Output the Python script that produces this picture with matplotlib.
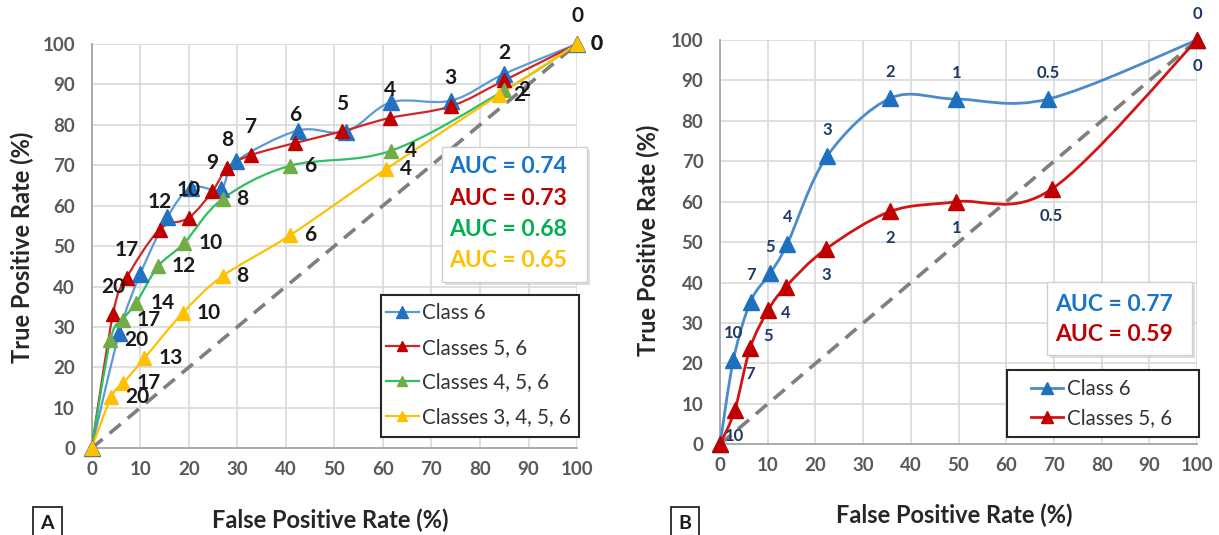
import matplotlib
matplotlib.use('Agg')
import matplotlib.pyplot as plt
import numpy as np
from matplotlib.path import Path
from matplotlib.patches import PathPatch, Rectangle
from matplotlib.lines import Line2D

plt.rcParams['font.family'] = ['Lato', 'DejaVu Sans']

# ---- panel A data (FPR, TPR in %, threshold labels) ----
a_names = ['Class 6', 'Classes 5, 6', 'Classes 4, 5, 6', 'Classes 3, 4, 5, 6']

a_c6_x = [0, 5.7, 10.0, 15.6, 20.5, 26.6, 29.8, 42.5, 52.4, 61.7, 74.1, 85.0, 100]
a_c6_y = [0, 28.5, 43.0, 57.1, 64.5, 64.1, 71.0, 78.6, 78.3, 85.6, 86.0, 92.6, 100]

a_c56_x = [0, 4.4, 7.2, 14.0, 20.0, 24.9, 28.0, 32.8, 41.9, 51.6, 61.4, 74.0, 85.0, 100]
a_c56_y = [0, 33.1, 42.1, 54.1, 57.0, 63.6, 69.4, 72.5, 75.5, 78.4, 81.7, 84.6, 91.0, 100]
a_c56_lab = ['', '20', '17', '12', '10', '9', '8', '7', '6', '5', '4', '3', '2', '0']

a_c456_x = [0, 3.9, 6.4, 9.2, 13.7, 19.1, 27.0, 40.9, 61.7, 85.0, 100]
a_c456_y = [0, 26.9, 31.8, 36.0, 45.0, 50.8, 61.7, 69.9, 73.6, 88.5, 100]
a_c456_lab = ['', '20', '17', '14', '12', '10', '8', '6', '4', '2', '0']

a_c3456_x = [0, 4.1, 6.5, 10.9, 18.8, 27.0, 40.9, 60.7, 83.9, 100]
a_c3456_y = [0, 12.8, 16.1, 22.3, 33.5, 42.6, 52.7, 69.1, 87.4, 100]
a_c3456_lab = ['', '20', '17', '13', '10', '8', '6', '4', '2', '0']

a_auc = ['AUC = 0.74', 'AUC = 0.73', 'AUC = 0.68', 'AUC = 0.65']

# ---- panel B data ----
b_names = ['Class 6', 'Classes 5, 6']
b_c6_x = [0, 2.8, 6.4, 10.5, 14.1, 22.4, 35.7, 49.5, 68.8, 100]
b_c6_y = [0, 20.9, 35.3, 42.3, 49.6, 71.2, 85.6, 85.4, 85.4, 100]
b_c56_x = [0, 3.1, 6.3, 10.1, 13.8, 22.2, 35.7, 49.5, 69.5, 100]
b_c56_y = [0, 8.5, 23.8, 33.2, 39.0, 48.3, 57.6, 60.0, 63.1, 100]
b_lab = ['', '10', '7', '5', '4', '3', '2', '1', '0.5', '0']
b_auc = ['AUC = 0.77', 'AUC = 0.59']

ticks = list(range(0, 101, 10))

blue_line, blue_mk = '#5B9BD5', '#2272C3'
red_line, red_mk = '#D02626', '#C00000'
green_line, green_mk = '#2DC063', '#70AD47'
yel_line, yel_mk = '#FFC000', '#FFC000'
auc_cols = ['#1874C8', '#C00000', '#00B050', '#FFC000']


def smooth_path(xs, ys):
    # excel-like smoothed line drawn as cubic bezier segments
    pts = np.column_stack([xs, ys]).astype(float)
    n = len(pts)
    verts = [pts[0]]
    codes = [Path.MOVETO]
    for i in range(n - 1):
        p0 = pts[max(i - 1, 0)]
        p1 = pts[i]
        p2 = pts[i + 1]
        p3 = pts[min(i + 2, n - 1)]
        verts += [p1 + (p2 - p0) / 6, p2 - (p3 - p1) / 6, p2]
        codes += [Path.CURVE4] * 3
    return Path(verts, codes)


def series(ax, xs, ys, lc, mc, lw, ms):
    ax.add_patch(PathPatch(smooth_path(xs, ys), fill=False, ec=lc, lw=lw, zorder=3))
    ax.plot(xs, ys, ls='none', marker='^', color=mc, ms=ms, zorder=4, clip_on=False)
    return Line2D([], [], color=lc, lw=lw, marker='^', mfc=mc, mec=mc, ms=ms * 0.75)


def labels(ax, xs, ys, labs, dx, dy, ha, color, size):
    for x, y, t in zip(xs, ys, labs):
        if t:
            ax.annotate(t, (x, y), xytext=(dx, dy), textcoords='offset points',
                        ha=ha, va='center', color=color, fontsize=size,
                        fontweight='bold', zorder=6)


def base(ax):
    ax.set_xlim(0, 100)
    ax.set_ylim(0, 100)
    ax.set_xticks(ticks)
    ax.set_yticks(ticks)
    ax.grid(True, color='#D9D9D9', lw=1.2, zorder=0)
    ax.set_axisbelow(True)
    for s in ['top', 'right']:
        ax.spines[s].set_visible(False)
    for s in ['left', 'bottom']:
        ax.spines[s].set_color('#A6A6A6')
        ax.spines[s].set_linewidth(1.3)
    ax.tick_params(length=0, labelsize=13.5, labelcolor='#595959', pad=12)
    for t in ax.get_xticklabels() + ax.get_yticklabels():
        t.set_fontweight('bold')
    ax.tick_params(axis='x', pad=9)
    ax.plot([0, 100], [0, 100], ls=(0, (4, 2.5)), color='#7F7F7F', lw=2.6, zorder=2)


def auc_box(ax, x0, y0, w, h, texts, cols, tx, tys):
    sh = Rectangle((x0 + 0.006, y0 - 0.008), w, h, transform=ax.transAxes,
                   fc='#C8C8C8', ec='none', zorder=7, clip_on=False, alpha=0.6)
    ax.add_patch(sh)
    ax.add_patch(Rectangle((x0, y0), w, h, transform=ax.transAxes, fc='white',
                           ec='#D0D0D0', lw=1, zorder=8, clip_on=False))
    for t, c, ty in zip(texts, cols, tys):
        ax.text(tx, ty, t, transform=ax.transAxes, color=c, fontsize=16.5,
                fontweight='bold', va='center', ha='left', zorder=9)


def legend(ax, handles, names, frame, anchor, spacing):
    x0, y0, x1, y1 = frame
    ax.add_patch(Rectangle((x0, y0), x1 - x0, y1 - y0, transform=ax.transAxes,
                           fc='white', ec='#262626', lw=1.5, zorder=10, clip_on=False))
    leg = ax.legend(handles, names, loc='center left', bbox_to_anchor=anchor,
                    fontsize=14.8, frameon=False, handlelength=1.6,
                    handletextpad=0.15, labelspacing=spacing,
                    borderpad=0, borderaxespad=0)
    leg.set_zorder(11)
    for t in leg.get_texts():
        t.set_color('#333333')
    return leg


fig = plt.figure(figsize=(12.19, 5.35), dpi=100)
axA = fig.add_axes([0.0751, 0.162, 0.3983, 0.7558])
axB = fig.add_axes([0.5907, 0.1695, 0.3913, 0.7557])

# ---- panel A ----
base(axA)
hA = [
    series(axA, a_c6_x, a_c6_y, blue_line, blue_mk, 1.6, 11.5),
    series(axA, a_c56_x, a_c56_y, red_line, red_mk, 1.6, 10),
    series(axA, a_c456_x, a_c456_y, green_line, green_mk, 1.6, 10),
    series(axA, a_c3456_x, a_c3456_y, yel_line, yel_mk, 1.6, 10),
]
labels(axA, a_c56_x, a_c56_y, a_c56_lab, 0, 20, 'center', '#1A1A1A', 15)
labels(axA, a_c456_x, a_c456_y, a_c456_lab, 10, 0, 'left', '#1A1A1A', 15)
labels(axA, a_c3456_x, a_c3456_y, a_c3456_lab, 10, 0, 'left', '#1A1A1A', 15)
auc_box(axA, 0.721, 0.412, 0.299, 0.334, a_auc, auc_cols, 0.737,
        [0.697, 0.618, 0.540, 0.464])
legend(axA, hA, a_names, (0.597, 0.029, 1.004, 0.379), (0.606, 0.206), 0.72)

# ---- panel B ----
base(axB)
hB = [
    series(axB, b_c6_x, b_c6_y, '#4A8BCB', '#1F6FBF', 2.0, 11),
    series(axB, b_c56_x, b_c56_y, '#D41414', '#C00000', 2.0, 11),
]
labels(axB, b_c6_x, b_c6_y, b_lab, 0, 19, 'center', '#1F3864', 12)
labels(axB, b_c56_x, b_c56_y, b_lab, 0, -19, 'center', '#1F3864', 12)
auc_box(axB, 0.685, 0.221, 0.304, 0.181, b_auc, auc_cols[:2], 0.703, [0.345, 0.271])
legend(axB, hB, b_names, (0.601, 0.019, 1.004, 0.184), (0.651, 0.101), 0.45)

# ---- axis titles and panel letters ----
fig.text(0.2707, 0.028, 'False Positive Rate (%)', ha='center', va='center',
         fontsize=17, fontweight='bold', color='#262626')
fig.text(0.018, 0.538, 'True Positive Rate (%)', ha='center', va='center',
         rotation=90, fontsize=17, fontweight='bold', color='#262626')
fig.text(0.783, 0.037, 'False Positive Rate (%)', ha='center', va='center',
         fontsize=17, fontweight='bold', color='#262626')
fig.text(0.532, 0.551, 'True Positive Rate (%)', ha='center', va='center',
         rotation=90, fontsize=17, fontweight='bold', color='#262626')
for x, t in [(0.0386, 'A'), (0.562, 'B')]:
    fig.text(x, 0.022, t, ha='center', va='center', fontsize=14, fontweight='bold',
             color='#1A1A1A',
             bbox=dict(boxstyle='square,pad=0.4', fc='white', ec='#262626', lw=1.3))

fig.savefig('out.png', dpi=100)
